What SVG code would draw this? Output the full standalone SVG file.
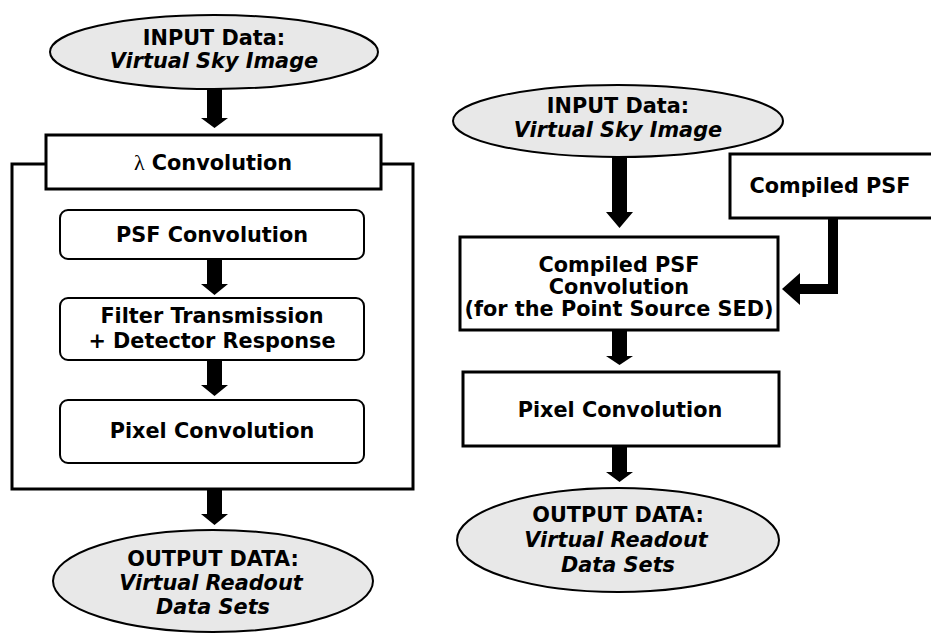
<svg xmlns="http://www.w3.org/2000/svg" width="931" height="634" viewBox="0 0 931 634">
<style>
.ell{fill:#e8e8e8;stroke:#000;stroke-width:2}
.box{fill:#fff;stroke:#000;stroke-width:3}
.rbox{fill:#fff;stroke:#000;stroke-width:2}
.t{font-family:"DejaVu Sans",Verdana,sans-serif;font-weight:bold;font-size:20.8px;fill:#000;text-anchor:middle}
.i{font-style:italic}
.lam{font-family:"Liberation Serif","Times New Roman",serif;font-weight:normal;font-size:22px}
.arr{fill:#000}
</style>
<rect width="931" height="634" fill="#fff"/>
<g id="outer-container">
<rect x="12" y="164" width="401" height="325" fill="#fff" stroke="#000" stroke-width="3"/>
</g>
<g id="in-left">
<ellipse class="ell" cx="214" cy="52" rx="164" ry="37"/>
<text class="t" x="214" y="45">INPUT Data:</text>
<text class="t i" x="214" y="68">Virtual Sky Image</text>
</g>
<g id="lambda-conv">
<rect class="box" x="46" y="135" width="335" height="54"/>
<text class="t" x="213" y="170"><tspan class="lam">λ</tspan> Convolution</text>
</g>
<g id="psf-conv">
<rect class="rbox" x="60" y="210" width="304" height="49" rx="8"/>
<text class="t" x="212" y="242">PSF Convolution</text>
</g>
<g id="filter">
<rect class="rbox" x="60" y="298" width="304" height="62" rx="8"/>
<text class="t" x="212" y="323">Filter Transmission</text>
<text class="t" x="212" y="348">+ Detector Response</text>
</g>
<g id="pixel-left">
<rect class="rbox" x="60" y="400" width="304" height="63" rx="8"/>
<text class="t" x="212" y="438">Pixel Convolution</text>
</g>
<g id="out-left">
<ellipse class="ell" cx="213" cy="581" rx="160" ry="51"/>
<text class="t" x="213" y="566">OUTPUT DATA:</text>
<text class="t i" x="211" y="590">Virtual Readout</text>
<text class="t i" x="213" y="614">Data Sets</text>
</g>
<g id="in-right">
<ellipse class="ell" cx="618" cy="121" rx="165" ry="36"/>
<text class="t" x="618" y="113">INPUT Data:</text>
<text class="t i" x="618" y="137">Virtual Sky Image</text>
</g>
<g id="compiled-psf">
<rect class="box" x="730" y="154" width="210" height="64"/>
<text class="t" x="830" y="193">Compiled PSF</text>
</g>
<g id="compiled-conv">
<rect class="box" x="460" y="237" width="318" height="93"/>
<text class="t" x="619" y="272">Compiled PSF</text>
<text class="t" x="619" y="294">Convolution</text>
<text class="t" x="619" y="316">(for the Point Source SED)</text>
</g>
<g id="pixel-right">
<rect class="box" x="463" y="372" width="316" height="74"/>
<text class="t" x="620" y="417">Pixel Convolution</text>
</g>
<g id="out-right">
<ellipse class="ell" cx="618" cy="540" rx="161" ry="52"/>
<text class="t" x="618" y="522">OUTPUT DATA:</text>
<text class="t i" x="616" y="547">Virtual Readout</text>
<text class="t i" x="618" y="572">Data Sets</text>
</g>
<g id="connectors">
<polygon class="arr" points="207,89 222,89 222,118 228,118 214.5,128 201,118 207,118"/>
<polygon class="arr" points="207,259 222,259 222,284 228,284 214.5,295 201,284 207,284"/>
<polygon class="arr" points="207,360 222,360 222,385 228,385 214.5,396 201,385 207,385"/>
<polygon class="arr" points="207,489 222,489 222,514 228,514 214.5,525 201,514 207,514"/>
<polygon class="arr" points="612,157 627,157 627,212 633,212 619.5,228 606,212 612,212"/>
<polygon class="arr" points="612,330 627,330 627,356 633,356 619.5,365 606,356 612,356"/>
<polygon class="arr" points="612,446 627,446 627,472 633,472 619.5,482 606,472 612,472"/>
<polyline points="833,218 833,289 798,289" fill="none" stroke="#000" stroke-width="10"/>
<polygon class="arr" points="800,273 782,289 800,305"/>
</g>
</svg>
